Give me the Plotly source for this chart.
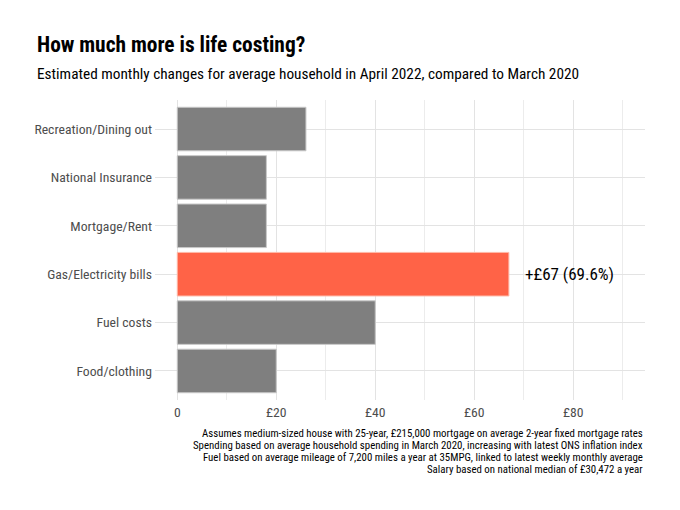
import plotly.graph_objects as go

categories = ["Food/clothing", "Fuel costs", "Gas/Electricity bills",
              "Mortgage/Rent", "National Insurance", "Recreation/Dining out"]
values = [20, 40, 67, 18, 18, 26]
highlight = "Gas/Electricity bills"
label_text = "+£67 (69.6%)"
tick_vals = [0, 20, 40, 60, 80]
tick_text = ["0", "£20", "£40", "£60", "£80"]
title = "How much more is life costing?"
subtitle = "Estimated monthly changes for average household in April 2022, compared to March 2020"
caption_lines = [
    "Assumes medium-sized house with 25-year, £215,000 mortgage on average 2-year fixed mortgage rates",
    "Spending based on average household spending in March 2020, increasing with latest ONS inflation index",
    "Fuel based on average mileage of 7,200 miles a year at 35MPG, linked to latest weekly monthly average",
    "Salary based on national median of £30,472 a year",
]

FONT = "Roboto Condensed, Liberation Sans Narrow, Arial Narrow, Roboto, sans-serif"

colors = ["#FF6347" if c == highlight else "#7F7F7F" for c in categories]
line_colors = ["#FFB9A8" if c == highlight else "#C8C8C8" for c in categories]

# page offset (body margin) of 8px
OFF = 8
W, H = 680, 510
plot_l, plot_r, plot_t, plot_b = 154.7 - OFF, 644.7 - OFF, 100 - OFF, 400 - OFF


def px_to_paper(px, py):
    px -= OFF
    py -= OFF
    return (px - plot_l) / (plot_r - plot_l), (plot_b - py) / (plot_b - plot_t)


fig = go.Figure()
fig.add_trace(go.Bar(
    x=values, y=categories, orientation="h",
    marker=dict(color=colors, line=dict(color=line_colors, width=1)),
    width=0.9, hoverinfo="skip",
))

hi_val = values[categories.index(highlight)]
fig.add_annotation(x=hi_val, y=highlight, text=label_text, showarrow=False,
                   xanchor="left", xshift=14, font=dict(family=FONT, size=17, color="#000"))

x, y = px_to_paper(35, 45)
fig.add_annotation(x=x, y=y, xref="paper", yref="paper", text=f"<b>{title}</b>",
                   showarrow=False, xanchor="left", yanchor="middle",
                   font=dict(family=FONT, size=21.4, color="#000"))
x, y = px_to_paper(35, 74)
fig.add_annotation(x=x, y=y, xref="paper", yref="paper", text=subtitle,
                   showarrow=False, xanchor="left", yanchor="middle",
                   font=dict(family=FONT, size=15.3, color="#000"))
for i, line in enumerate(caption_lines):
    x, y = px_to_paper(645, 433 + 12 * i)
    fig.add_annotation(x=x, y=y, xref="paper", yref="paper", text=line,
                       showarrow=False, xanchor="right", yanchor="middle",
                       font=dict(family=FONT, size=10.85, color="#000"))

fig.update_layout(
    width=W, height=H,
    margin=dict(l=plot_l, r=W - plot_r, t=plot_t, b=H - plot_b, pad=0),
    paper_bgcolor="white", plot_bgcolor="white",
    showlegend=False,
    font=dict(family=FONT),
)

fig.update_xaxes(
    range=[-4.5, 94.5], tickvals=tick_vals, ticktext=tick_text,
    showgrid=True, gridcolor="#E3E3E3", gridwidth=1, zeroline=False,
    minor=dict(dtick=10, tick0=0, showgrid=True, gridcolor="#ECECEC", gridwidth=1),
    tickfont=dict(family=FONT, size=13.7, color="#4D4D4D"), ticks="", showline=False,
    ticklabelstandoff=2,
)
fig.update_yaxes(
    categoryorder="array", categoryarray=categories, range=[-0.6, 5.6],
    showgrid=True, gridcolor="#E3E3E3", gridwidth=1, zeroline=False,
    tickfont=dict(family=FONT, size=13.7, color="#4D4D4D"), ticks="", showline=False,
    ticklabelstandoff=2,
)

fig.write_html("out.html")
